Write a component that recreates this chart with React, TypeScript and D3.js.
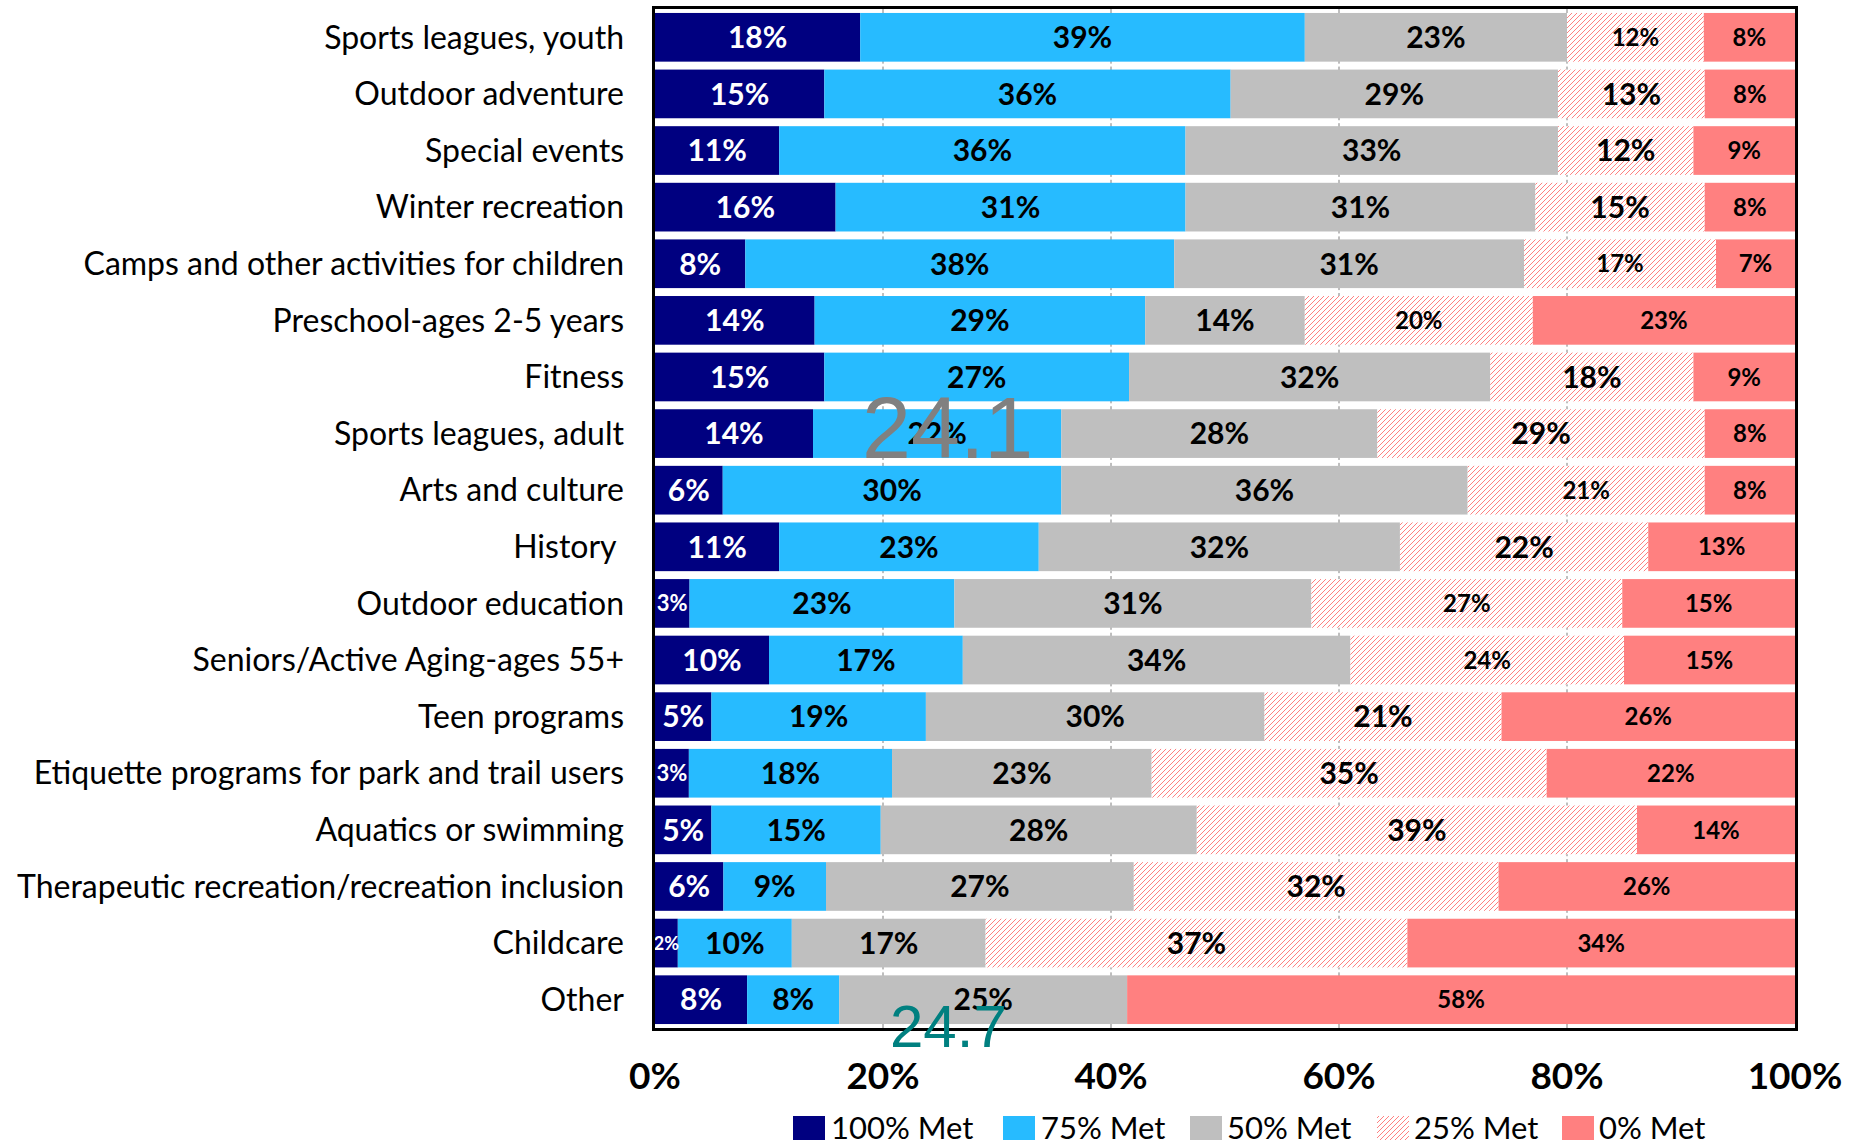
import React from 'react';
import * as d3 from 'd3';

const categories = [
  'Sports leagues, youth',
  'Outdoor adventure',
  'Special events',
  'Winter recreation',
  'Camps and other activities for children',
  'Preschool-ages 2-5 years',
  'Fitness',
  'Sports leagues, adult',
  'Arts and culture',
  'History ',
  'Outdoor education',
  'Seniors/Active Aging-ages 55+',
  'Teen programs',
  'Etiquette programs for park and trail users',
  'Aquatics or swimming',
  'Therapeutic recreation/recreation inclusion',
  'Childcare',
  'Other',
];

const seriesNames = ['100% Met', '75% Met', '50% Met', '25% Met', '0% Met'];

const met100 = [18, 15, 11, 16, 8, 14, 15, 14, 6, 11, 3, 10, 5, 3, 5, 6, 2, 8];
const met75 = [39, 36, 36, 31, 38, 29, 27, 22, 30, 23, 23, 17, 19, 18, 15, 9, 10, 8];
const met50 = [23, 29, 33, 31, 31, 14, 32, 28, 36, 32, 31, 34, 30, 23, 28, 27, 17, 25];
const met25 = [12, 13, 12, 15, 17, 20, 18, 29, 21, 22, 27, 24, 21, 35, 39, 32, 37, 0];
const met0 = [8, 8, 9, 8, 7, 23, 9, 8, 8, 13, 15, 15, 26, 22, 14, 26, 34, 58];

const xTicks = [0, 0.2, 0.4, 0.6, 0.8, 1];

const overlayGray = '24.1';
const overlayTeal = '24.7';

// ---- styling ----
const W = 1866;
const H = 1142;
const plot = { left: 655, right: 1795, top: 9, bottom: 1028 };
const fills = ['#000080', '#27BBFF', '#BFBFBF', 'url(#hatch25)', '#FF8080'];
const labelColors = ['#FFFFFF', '#000000', '#000000', '#000000', '#000000'];
const FONT = 'Lato, "Open Sans", sans-serif';
const smallHatchRows = [0, 4, 5, 8, 10, 11];

function labelSize(s: number, i: number, v: number): number {
  if (s === 4) return 24;
  if (s === 3 && smallHatchRows.includes(i)) return 24;
  if (s === 0 && v <= 2) return 18;
  if (s === 0 && v <= 3) return 22;
  return 30;
}

const legendPos = [
  { sx: 793, tx: 831 },
  { sx: 1003, tx: 1041 },
  { sx: 1190, tx: 1227 },
  { sx: 1377, tx: 1414 },
  { sx: 1562, tx: 1599 },
];

export default function App() {
  const seriesData = [met100, met75, met50, met25, met0];
  const rows = categories.map((c, i) => {
    const r: any = { cat: c };
    seriesNames.forEach((s, k) => (r[s] = seriesData[k][i]));
    return r;
  });
  const stacked = d3.stack<any>().keys(seriesNames).offset(d3.stackOffsetExpand)(rows);

  const x = d3.scaleLinear().domain([0, 1]).range([plot.left, plot.right]);
  const y = d3
    .scaleBand<string>()
    .domain(categories)
    .range([plot.top, plot.bottom])
    .paddingInner(0.14)
    .paddingOuter(0.07);
  const bw = y.bandwidth();

  const gaps: { y0: number; y1: number }[] = [];
  for (let i = 0; i < categories.length - 1; i++) {
    const b0 = (y(categories[i]) as number) + bw;
    const t1 = y(categories[i + 1]) as number;
    gaps.push({ y0: b0 + 2, y1: t1 - 3 });
  }

  return (
    <svg
      width={W}
      height={H}
      style={{ position: 'absolute', left: 0, top: 0, display: 'block', background: '#fff' }}
    >
      <defs>
        <pattern id="hatch25" patternUnits="userSpaceOnUse" width={5} height={5}>
          <rect width={5} height={5} fill="#FFFFFF" />
          <path d="M0,5 L5,0 M-1,1 L1,-1 M4,6 L6,4" stroke="#FF8080" strokeWidth={1} />
        </pattern>
      </defs>

      {/* gridlines */}
      {xTicks.slice(1, -1).map((t) => (
        <line
          key={'g' + t}
          x1={x(t)}
          x2={x(t)}
          y1={plot.top}
          y2={plot.bottom}
          stroke="#7F7F7F"
          strokeWidth={1}
        />
      ))}
      {gaps.map((g, i) => (
        <rect key={'gap' + i} x={plot.left} y={g.y0} width={plot.right - plot.left} height={Math.max(0, g.y1 - g.y0)} fill="#fff" />
      ))}

      {/* bars */}
      {stacked.map((layer, s) => (
        <g key={'s' + s}>
          {layer.map((d, i) => {
            const x0 = x(d[0]);
            const x1 = x(d[1]);
            if (x1 - x0 <= 0) return null;
            return (
              <rect
                key={i}
                x={x0}
                y={y(categories[i])}
                width={x1 - x0}
                height={bw}
                fill={fills[s]}
              />
            );
          })}
        </g>
      ))}

      {/* value labels */}
      {stacked.map((layer, s) => (
        <g key={'l' + s}>
          {layer.map((d, i) => {
            const v = seriesData[s][i];
            if (!v) return null;
            const cx = (x(d[0]) + x(d[1])) / 2;
            const cy = (y(categories[i]) as number) + bw / 2;
            return (
              <text
                key={i}
                x={cx}
                y={cy}
                dy="0.36em"
                textAnchor="middle"
                fontFamily={FONT}
                fontWeight={700}
                fontSize={labelSize(s, i, v)}
                fill={labelColors[s]}
              >
                {v + '%'}
              </text>
            );
          })}
        </g>
      ))}

      {/* plot border */}
      <rect
        x={plot.left - 1.5}
        y={plot.top - 1.5}
        width={plot.right - plot.left + 3}
        height={plot.bottom - plot.top + 3}
        fill="none"
        stroke="#000"
        strokeWidth={3}
      />

      {/* category labels */}
      {categories.map((c) => (
        <text
          key={c}
          x={624}
          y={(y(c) as number) + bw / 2}
          dy="0.35em"
          textAnchor="end"
          fontFamily={FONT}
          fontSize={32}
          fill="#000"
          style={{ whiteSpace: 'pre' }}
        >
          {c}
        </text>
      ))}

      {/* x tick labels */}
      {xTicks.map((t) => (
        <text
          key={'t' + t}
          x={x(t)}
          y={1089}
          textAnchor="middle"
          fontFamily={FONT}
          fontWeight={700}
          fontSize={37}
          fill="#000"
        >
          {d3.format('.0%')(t)}
        </text>
      ))}

      {/* legend */}
      {seriesNames.map((n, k) => (
        <g key={'lg' + k}>
          <rect x={legendPos[k].sx} y={1116} width={32} height={24} fill={fills[k]} />
          <text x={legendPos[k].tx} y={1139} fontFamily={FONT} fontSize={31} fill="#000">
            {n}
          </text>
        </g>
      ))}

      {/* overlay numbers */}
      <text x={862} y={458} fontFamily='"Liberation Sans", Arial, sans-serif' fontSize={88} fill="#808080">
        {overlayGray}
      </text>
      <text x={890} y={1047} fontFamily='"Liberation Sans", Arial, sans-serif' fontSize={60} fill="#008080">
        {overlayTeal}
      </text>
    </svg>
  );
}
